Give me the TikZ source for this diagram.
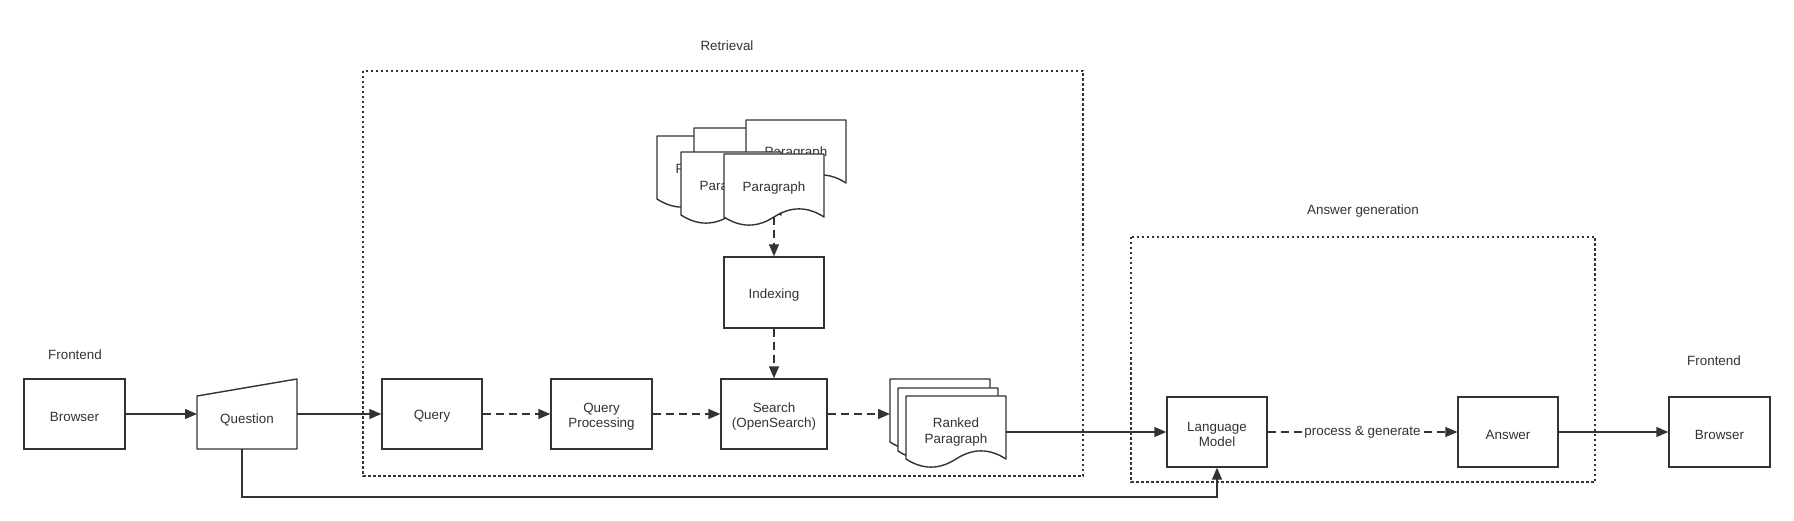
\documentclass[tikz,border=0pt]{standalone}
\usepackage{fontspec}
\setmainfont{Liberation Sans}
\usetikzlibrary{arrows.meta}
\definecolor{ink}{HTML}{333333}
\tikzset{
  every node/.style={font=\fontsize{13.4}{15.5}\selectfont, text=ink, align=center},
  box/.style={draw=ink, line width=1.4pt, fill=white, inner sep=0pt},
  txt/.style={inner sep=0pt},
  lbl/.style={inner sep=0pt},
  conn/.style={draw=ink, line width=1.4pt, -{Triangle[length=12pt,width=10pt]}},
  dconn/.style={conn, dash pattern=on 8pt off 5pt},
  group/.style={draw=ink, line width=1.4pt, dash pattern=on 2.5pt off 2.5pt},
  docline/.style={draw=ink, line width=1.4pt, fill=white, line join=round},
  docpage/.pic={\path[docline] (0,0) -- (100,0) -- (100,63) .. controls (83.33,52.2) and (66.67,52.2) .. (50,63) .. controls (33.33,73.8) and (16.67,73.8) .. (0,63) -- cycle;}
}
\begin{document}
\begin{tikzpicture}[x=1pt,y=-1pt]
\useasboundingbox (0,0) rectangle (1794,521);

% group frames
\draw[group] (363,71) rectangle (1083,476);
\draw[group] (1131,237) rectangle (1595,482);
\node[lbl] (retl) at (727,46) {Retrieval};
\node[lbl] (ansl) at (1363,211) {Answer generation};
\node[lbl] (fel) at (75,355) {Frontend};
\node[lbl] (fer) at (1714,361) {Frontend};

% left frontend
\node[box, minimum width=101pt, minimum height=70pt] (brl) at (74.5,414) {};
\node[txt, yshift=-2.5pt] (brlt) at (brl.center) {Browser};
\path[docline] (197,396) -- (297,379) -- (297,449) -- (197,449) -- cycle;
\node[txt] (q) at (247,420) {Question};
\coordinate (qin) at (197,414);
\coordinate (qout) at (297,414);
\coordinate (qbot) at (242,449);

% retrieval
\node[box, minimum width=100pt, minimum height=70pt] (qry) at (432,414) {};
\node[txt, yshift=-2.5pt] (qryt) at (qry.center) {Query};
\node[box, minimum width=101pt, minimum height=70pt] (qp) at (601.5,414) {};
\node[txt, yshift=-2.5pt] (qpt) at (qp.center) {Query\\Processing};
\node[box, minimum width=106pt, minimum height=70pt] (srch) at (774,414) {};
\node[txt, yshift=-2.5pt] (srcht) at (srch.center) {Search\\(OpenSearch)};
\node[box, minimum width=100pt, minimum height=71pt] (idx) at (774,292.5) {};
\node[txt, yshift=-2.5pt] (idxt) at (idx.center) {Indexing};

% stacked paragraph documents
\pic at (657,136) {docpage};
\node[txt] (pa) at (707,170) {Paragraph};
\pic at (694,128) {docpage};
\node[txt] (pb) at (744,162) {Paragraph};
\pic at (746,120) {docpage};
\node[txt] (pc) at (796,153) {Paragraph};
\pic at (681,152) {docpage};
\node[txt] (pd) at (731,187) {Paragraph};
\pic at (724,154) {docpage};
\node[txt] (pe) at (774,188) {Paragraph};
\coordinate (pebot) at (774,217);

% ranked paragraphs
\pic at (890,379) {docpage};
\pic at (898,388) {docpage};
\pic at (906,396) {docpage};
\node[txt] (rk) at (956,432) {Ranked\\Paragraph};
\coordinate (rkin) at (890,414);
\coordinate (rkout) at (1006,432);

% answer generation
\node[box, minimum width=100pt, minimum height=70pt] (lm) at (1217,432) {};
\node[txt, yshift=-2.5pt] (lmt) at (lm.center) {Language\\Model};
\node[box, minimum width=100pt, minimum height=70pt] (ans) at (1508,432) {};
\node[txt, yshift=-2.5pt] (anst) at (ans.center) {Answer};
\node[box, minimum width=101pt, minimum height=70pt] (brr) at (1719.5,432) {};
\node[txt, yshift=-2.5pt] (brrt) at (brr.center) {Browser};

% connectors
\draw[conn] (brl.east) -- (qin);
\draw[conn] (qout) -- (qry.west);
\draw[dconn] (qry.east) -- (qp.west);
\draw[dconn] (qp.east) -- (srch.west);
\draw[dconn] (srch.east) -- (rkin);
\draw[dconn] (pebot) -- (idx.north);
\draw[dconn] (idx.south) -- (srch.north);
\draw[conn] (rkout) -- (lm.west);
\draw[dconn] (lm.east) -- node[fill=white, inner sep=1pt] (pg) {process \& generate} (ans.west);
\draw[conn] (ans.east) -- (brr.west);
\draw[conn] (qbot) -- (242,497) -| (lm.south);
\end{tikzpicture}
\end{document}
